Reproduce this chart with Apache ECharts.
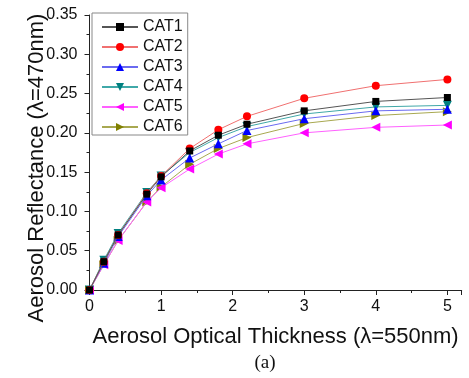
<!DOCTYPE html>
<html>
<head>
<meta charset="utf-8">
<script src="https://cdn.jsdelivr.net/npm/echarts@6/dist/echarts.min.js"></script>
<style>
  html, body { margin: 0; padding: 0; background: #fff; }
  #main { width: 469px; height: 378px; }
</style>
</head>
<body>
<div id="main"></div>
<script>
// AOT values on the x axis
var aot = [0, 0.2, 0.4, 0.8, 1.0, 1.4, 1.8, 2.2, 3, 4, 5];
// reflectance per category
var cat1 = [0, 0.036, 0.070, 0.122, 0.144, 0.177, 0.197, 0.211, 0.228, 0.240, 0.245];
var cat2 = [0, 0.036, 0.070, 0.123, 0.145, 0.180, 0.204, 0.221, 0.244, 0.260, 0.268];
var cat3 = [0, 0.034, 0.068, 0.120, 0.140, 0.168, 0.186, 0.203, 0.218, 0.228, 0.230];
var cat4 = [0, 0.038, 0.072, 0.124, 0.145, 0.175, 0.194, 0.208, 0.224, 0.233, 0.235];
var cat5 = [0, 0.032, 0.063, 0.112, 0.130, 0.154, 0.173, 0.186, 0.200, 0.207, 0.210];
var cat6 = [0, 0.032, 0.063, 0.112, 0.131, 0.160, 0.180, 0.194, 0.212, 0.222, 0.227];
var names = ['CAT1', 'CAT2', 'CAT3', 'CAT4', 'CAT5', 'CAT6'];

var FONT = 'Liberation Sans, Arial, sans-serif';

function pairs(ys) {
    return aot.map(function (x, i) { return [x, ys[i]]; });
}

// marker colour, line colour, symbol, size, rotate
var looks = [
    ['#000000', '#555555', 'rect', 7, 0],
    ['#ff0000', '#f07070', 'circle', 8, 0],
    ['#0000ff', '#6a6af0', 'triangle', 9, 0],
    ['#008080', '#40a8a8', 'triangle', 9, 180],
    ['#ff00ff', '#ff60ff', 'triangle', 9, 90],
    ['#808000', '#a8a850', 'triangle', 9, -90]
];
var allData = [cat1, cat2, cat3, cat4, cat5, cat6];

var series = allData.map(function (d, i) {
    var lk = looks[i];
    return {
        name: names[i],
        type: 'line',
        data: pairs(d),
        symbol: lk[2],
        symbolSize: lk[3],
        symbolRotate: lk[4],
        showAllSymbol: true,
        itemStyle: { color: lk[0] },
        lineStyle: { color: lk[1], width: 1 },
        z: 10 - i
    };
});

var myChart = echarts.init(document.getElementById('main'));
myChart.setOption({
    animation: false,
    backgroundColor: '#fff',
    grid: { left: 89.5, right: 7.3, top: 15, bottom: 88 },
    legend: {
        orient: 'vertical',
        left: 92,
        top: 13,
        padding: [6, 5, 0, 9],
        itemWidth: 36,
        itemHeight: 10,
        itemGap: 4,
        borderColor: '#888',
        borderWidth: 1,
        borderRadius: 0,
        backgroundColor: '#fff',
        textStyle: { fontFamily: FONT, fontSize: 16, color: '#111', lineHeight: 16 },
        data: names
    },
    xAxis: {
        type: 'value',
        min: 0,
        max: 5.2,
        interval: 1,
        axisLine: { show: true, lineStyle: { color: '#222', width: 1 } },
        axisTick: { show: true, inside: false, length: 5, lineStyle: { color: '#222' } },
        minorTick: { show: true, splitNumber: 2, length: 3, lineStyle: { color: '#222' } },
        splitLine: { show: false },
        axisLabel: {
            fontFamily: FONT, fontSize: 16, color: '#111', margin: 9,
            showMaxLabel: false
        },
        name: 'Aerosol Optical Thickness (λ=550nm)',
        nameLocation: 'middle',
        nameGap: 36,
        nameTextStyle: { fontFamily: FONT, fontSize: 22, color: '#111' }
    },
    yAxis: {
        type: 'value',
        min: 0,
        max: 0.35,
        interval: 0.05,
        axisLine: { show: true, lineStyle: { color: '#222', width: 1 } },
        axisTick: { show: true, inside: false, length: 5, lineStyle: { color: '#222' } },
        minorTick: { show: true, splitNumber: 2, length: 3, lineStyle: { color: '#222' } },
        splitLine: { show: false },
        axisLabel: {
            fontFamily: FONT, fontSize: 16, color: '#111', margin: 12,
            formatter: function (v) { return v.toFixed(2); }
        }
    },
    graphic: [
        {
            type: 'text',
            x: 37,
            y: 168,
            rotation: Math.PI / 2,
            style: {
                text: 'Aerosol Reflectance (λ=470nm)',
                fontFamily: FONT,
                fontSize: 22,
                fill: '#111',
                align: 'center',
                verticalAlign: 'middle'
            }
        },
        {
            type: 'text',
            x: 265,
            y: 363,
            style: {
                text: '(a)',
                fontFamily: 'Liberation Serif, Times New Roman, serif',
                fontSize: 19,
                fill: '#111',
                align: 'center',
                verticalAlign: 'middle'
            }
        }
    ],
    series: series
});
</script>
</body>
</html>
